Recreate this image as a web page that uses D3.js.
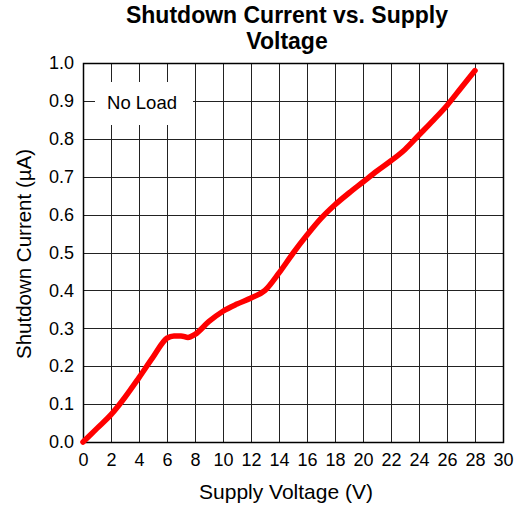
<!DOCTYPE html>
<html>
<head>
<meta charset="utf-8">
<script src="https://cdn.jsdelivr.net/npm/d3@7"></script>
<style>
  body { margin: 0; background: #fff; }
  text { font-family: "Liberation Sans", Arial, sans-serif; fill: #000; }
</style>
</head>
<body>
<div id="chart"></div>
<script>
const voltage = [0, 1, 2, 3, 4, 5, 6, 6.5, 7, 7.5, 8, 9, 10, 11, 12, 13, 14, 15, 16, 17, 18, 19, 20, 21, 22, 23, 24, 25, 26, 27, 28];
const current = [0, 0.036, 0.072, 0.118, 0.17, 0.224, 0.274, 0.28, 0.28, 0.276, 0.284, 0.318, 0.345, 0.364, 0.38, 0.4, 0.446, 0.498, 0.546, 0.59, 0.626, 0.657, 0.686, 0.715, 0.742, 0.772, 0.81, 0.848, 0.888, 0.934, 0.98];
const xTicks = d3.range(0, 31, 2);
const yTicks = d3.range(0, 1.01, 0.1);

const width = 521, height = 506;
const margin = { top: 63, right: 18, bottom: 64, left: 83 };

const svg = d3.select('#chart').append('svg')
    .attr('width', width)
    .attr('height', height);

const x = d3.scaleLinear().domain([0, 30]).range([margin.left, width - margin.right]);
const y = d3.scaleLinear().domain([0, 1]).range([height - margin.bottom, margin.top]);

// grid
const grid = svg.append('g').attr('class', 'grid');
grid.selectAll('line.v')
    .data(xTicks)
    .enter().append('line')
    .attr('class', 'v')
    .attr('x1', d => Math.round(x(d)) + 0.5)
    .attr('x2', d => Math.round(x(d)) + 0.5)
    .attr('y1', y(1))
    .attr('y2', y(0))
    .style('stroke', '#222')
    .style('stroke-width', 1);

grid.selectAll('line.h')
    .data(yTicks)
    .enter().append('line')
    .attr('class', 'h')
    .attr('x1', x(0))
    .attr('x2', x(30))
    .attr('y1', d => Math.round(y(d)) + 0.5)
    .attr('y2', d => Math.round(y(d)) + 0.5)
    .style('stroke', '#222')
    .style('stroke-width', 1);

// "No Load" label with white backing
svg.append('rect')
    .attr('x', 95)
    .attr('y', 82)
    .attr('width', 98)
    .attr('height', 43)
    .style('fill', '#fff');

svg.append('text')
    .attr('x', 142)
    .attr('y', 109)
    .attr('text-anchor', 'middle')
    .style('font-size', '18.5px')
    .text('No Load');

// border
svg.append('rect')
    .attr('x', x(0) + 0.5)
    .attr('y', y(1) + 0.5)
    .attr('width', x(30) - x(0))
    .attr('height', y(0) - y(1))
    .style('fill', 'none')
    .style('stroke', '#000')
    .style('stroke-width', 1.5);

// axes labels
const xAxis = d3.axisBottom(x).tickValues(xTicks).tickSize(0).tickPadding(11);
svg.append('g')
    .attr('transform', `translate(0,${y(0)})`)
    .call(xAxis)
    .call(g => g.select('.domain').remove())
    .call(g => g.selectAll('text').style('font-size', '18px').style('font-family', '"Liberation Sans", Arial, sans-serif').attr('fill', '#000'));

const yAxis = d3.axisLeft(y).tickValues(yTicks).tickSize(0).tickPadding(9).tickFormat(d3.format('.1f'));
svg.append('g')
    .attr('transform', `translate(${x(0)},0)`)
    .call(yAxis)
    .call(g => g.select('.domain').remove())
    .call(g => g.selectAll('text').style('font-size', '18px').style('font-family', '"Liberation Sans", Arial, sans-serif').attr('fill', '#000'));

// series
const line = d3.line()
    .x((d, i) => x(voltage[i]))
    .y(d => y(d))
    .curve(d3.curveMonotoneX);

svg.append('path')
    .datum(current)
    .attr('d', line)
    .style('fill', 'none')
    .style('stroke', '#ff0000')
    .style('stroke-width', 5.5)
    .style('stroke-linecap', 'round')
    .style('stroke-linejoin', 'round');

// titles
svg.append('text')
    .attr('x', 287)
    .attr('y', 23)
    .attr('text-anchor', 'middle')
    .style('font-size', '23px')
    .style('font-weight', 'bold')
    .text('Shutdown Current vs. Supply');
svg.append('text')
    .attr('x', 287)
    .attr('y', 49)
    .attr('text-anchor', 'middle')
    .style('font-size', '23px')
    .style('font-weight', 'bold')
    .text('Voltage');

svg.append('text')
    .attr('x', 286)
    .attr('y', 499)
    .attr('text-anchor', 'middle')
    .style('font-size', '21px')
    .text('Supply Voltage (V)');

svg.append('text')
    .attr('transform', `translate(31,254) rotate(-90)`)
    .attr('text-anchor', 'middle')
    .style('font-size', '20.5px')
    .text('Shutdown Current (µA)');
</script>
</body>
</html>
